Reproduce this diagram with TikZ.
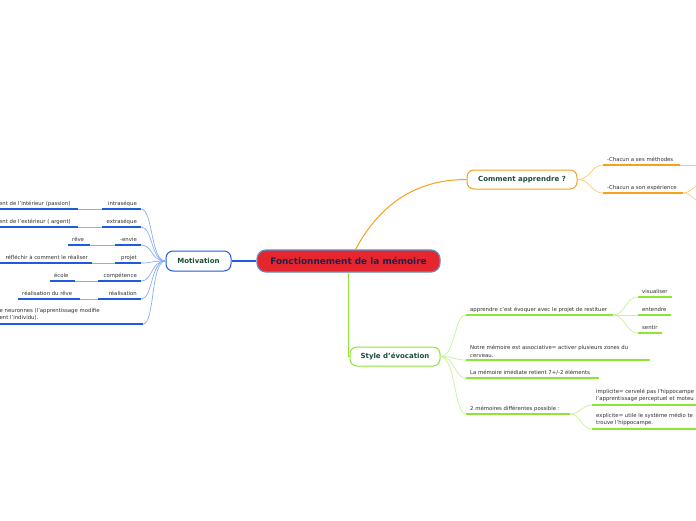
\documentclass[tikz,border=0pt]{standalone}
\usepackage{fontspec}
\setmainfont{DejaVu Sans}[Ligatures=ResetAll]
\definecolor{mblue}{HTML}{1F5BE0}
\definecolor{mlight}{HTML}{8AAEF5}
\definecolor{oorange}{HTML}{F8A01C}
\definecolor{olight}{HTML}{FBCB80}
\definecolor{ggreen}{HTML}{8EE535}
\definecolor{glight}{HTML}{C6F39A}
\definecolor{rootfill}{HTML}{E5262F}
\definecolor{rootborder}{HTML}{5F8DC5}
\definecolor{roottxt}{HTML}{1F1F4F}
\definecolor{topictxt}{HTML}{1E4D3C}
\definecolor{leaftxt}{HTML}{2E2E2E}
\colorlet{cur}{mblue}
% leaf with underline; text aligned right
\newcommand\mmulR[5]{%
  \coordinate (#1-l) at (#2,#4); \coordinate (#1-r) at (#3,#4);
  \draw[uline] (#1-l) -- (#1-r);
  \node[leaf, anchor=base east] (#1) at (#3-4,#4-4) {#5};}
% leaf with underline; text aligned left
\newcommand\mmulL[5]{%
  \coordinate (#1-l) at (#2,#4); \coordinate (#1-r) at (#3,#4);
  \draw[uline] (#1-l) -- (#1-r);
  \node[leaf, anchor=base west] (#1) at (#2+4,#4-4) {#5};}
\begin{document}
\begin{tikzpicture}[x=1pt,y=-1pt,
  leaf/.style={font=\fontsize{5.35}{7.6}\selectfont, text=leaftxt, inner sep=0pt},
  topic/.style={draw, line width=1pt, rounded corners=7pt, fill=white, inner sep=0pt,
    font=\fontsize{7}{8}\selectfont\bfseries, text=topictxt},
  central/.style={draw=rootborder, fill=rootfill, line width=1.2pt, rounded corners=9pt,
    inner sep=0pt, minimum width=183pt, minimum height=22pt,
    font=\fontsize{8.9}{10}\selectfont\bfseries, text=roottxt},
  uline/.style={line width=1.4pt, draw=cur},
  link/.style={line width=0.7pt},
]
\useasboundingbox (0,0) rectangle (696,520);
\fill[white] (0,0) rectangle (696,520);
\clip (0,0) rectangle (696,520);

% main nodes
\node[central] (root) at (348.5,261) {Fonctionnement de la mémoire};
\node[topic, draw=mblue, minimum width=65pt, minimum height=20pt] (mot) at (198.5,261) {Motivation};
\node[topic, draw=oorange, minimum width=110pt, minimum height=19pt] (com) at (522,179.5) {Comment apprendre ?};
\node[topic, draw=ggreen, minimum width=90pt, minimum height=19pt] (sty) at (395,356.5) {Style d'évocation};

% main connectors
\draw[line width=1.2pt, mblue] (root.west) -- (mot.east);
\draw[line width=1pt, oorange] ([xshift=7pt]root.north) .. controls (378,208) and (412,179.5) .. (com.west);
\draw[line width=1.2pt, ggreen] (root.south) |- (sty.west);

% ---------- Motivation ----------
\colorlet{cur}{mblue}
\mmulR{m1}{102}{141}{209}{intraséque}
\mmulL{m1a}{-5}{78}{209}{ent de l'intérieur (passion)}
\mmulR{m2}{102}{141}{227}{extraséque}
\mmulL{m2a}{-5}{78}{227}{ent de l'extérieur ( argent)}
\mmulR{m3}{115}{141}{245}{-envie}
\mmulL{m3a}{68}{90}{245}{rêve}
\mmulR{m4}{115}{141}{263}{projet}
\mmulR{m4a}{-20}{92}{263}{réfléchir à comment le réaliser}
\mmulR{m5}{98}{141}{281}{compétence}
\mmulL{m5a}{50}{75}{281}{école}
\mmulR{m6}{98}{141}{299}{réalisation}
\mmulL{m6a}{18}{80}{299}{réalisation du rêve}
\coordinate (m7-l) at (-20,324); \coordinate (m7-r) at (143,324);
\draw[uline] (m7-l) -- (m7-r);
\node[leaf, anchor=south west, align=left] (m7) at (-0.5,320.5) {e neuronnes (l'apprentissage modifie\\ent l'individu).};

\foreach \c in {m1,m2,m3,m4,m5,m6,m7}
  \draw[link, mlight] (mot.west) .. controls +(-15,0) and +(12,0) .. (\c-r);
\draw[link, mlight] (m1a-r) -- (m1-l);
\draw[link, mlight] (m2a-r) -- (m2-l);
\draw[link, mlight] (m3a-r) -- (m3-l);
\draw[link, mlight] (m4a-r) -- (m4-l);
\draw[link, mlight] (m5a-r) -- (m5-l);
\draw[link, mlight] (m6a-r) -- (m6-l);

% ---------- Comment apprendre ----------
\colorlet{cur}{oorange}
\mmulL{c1}{603}{680}{165}{-Chacun a ses méthodes}
\mmulL{c2}{603}{683}{193}{-Chacun a son expérience}
\foreach \c in {c1,c2}
  \draw[link, olight] (com.east) .. controls +(13,0) and +(-12,0) .. (\c-l);
\coordinate (c1x) at (700,165);
\coordinate (c2x) at (700,184);
\coordinate (c2y) at (700,202);
\draw[link, olight] (c1-r) -- (c1x);
\draw[link, olight] (c2-r) .. controls +(8,0) and +(-4,0) .. (c2x);
\draw[link, olight] (c2-r) .. controls +(8,0) and +(-4,0) .. (c2y);

% ---------- Style d'évocation ----------
\colorlet{cur}{ggreen}
\mmulL{s1}{466}{613}{315}{apprendre c'est évoquer avec le projet de restituer}
\mmulL{s1a}{638}{672}{297}{visualiser}
\mmulL{s1b}{638}{671}{315}{entendre}
\mmulL{s1c}{638}{662}{333}{sentir}
\coordinate (s2-l) at (466,360); \coordinate (s2-r) at (650,360);
\draw[uline] (s2-l) -- (s2-r);
\node[leaf, anchor=south west, align=left] (s2) at (470,357.3) {Notre mémoire est associative= activer plusieurs zones du\\cerveau.};
\mmulL{s3}{466}{599}{378}{La mémoire imédiate retient 7+/-2 éléments}
\mmulL{s4}{466}{570}{414}{2 mémoires différentes possible :}
\coordinate (s4a-l) at (592,405); \coordinate (s4a-r) at (700,405);
\draw[uline] (s4a-l) -- (s4a-r);
\node[leaf, anchor=south west, align=left] (s4a) at (596,402.3) {implicite= cervelé pas l'hippocampe\\l'apprentissage perceptuel et moteu};
\coordinate (s4b-l) at (592,429); \coordinate (s4b-r) at (700,429);
\draw[uline] (s4b-l) -- (s4b-r);
\node[leaf, anchor=south west, align=left] (s4b) at (596,426.3) {explicite= utile le système médio te\\trouve l'hippocampe.};

\foreach \c in {s1,s2,s3,s4}
  \draw[link, glight] (sty.east) .. controls +(15,0) and +(-12,0) .. (\c-l);
\foreach \c in {s1a,s1b,s1c}
  \draw[link, glight] (s1-r) .. controls +(12,0) and +(-12,0) .. (\c-l);
\foreach \c in {s4a,s4b}
  \draw[link, glight] (s4-r) .. controls +(11,0) and +(-11,0) .. (\c-l);
\end{tikzpicture}
\end{document}
